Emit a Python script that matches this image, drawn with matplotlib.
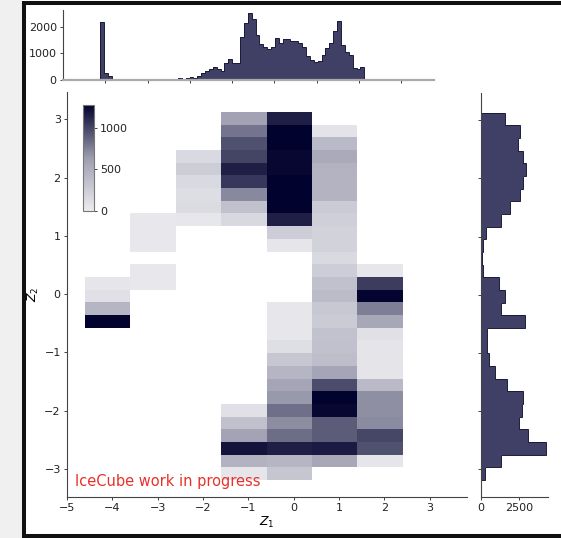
import numpy as np
import matplotlib
matplotlib.use('Agg')
import matplotlib.pyplot as plt
from matplotlib.colors import LinearSegmentedColormap
from matplotlib.patches import Rectangle

# 2D histogram: 7 columns in Z1, 29 rows in Z2 (rows listed from top to bottom)
z1_edges = np.linspace(-4.6, 2.4, 8)
z2_edges = np.linspace(-3.19, 3.13, 30)
counts_2d = [
    [0, 0, 0, 600, 1150, 0, 0],
    [0, 0, 0, 800, 1300, 70, 0],
    [0, 0, 0, 950, 1300, 410, 0],
    [0, 0, 150, 1000, 1250, 530, 0],
    [0, 0, 250, 1150, 1250, 470, 0],
    [0, 0, 150, 1050, 1300, 460, 0],
    [0, 0, 120, 720, 1300, 460, 0],
    [0, 0, 140, 350, 1300, 270, 0],
    [0, 40, 50, 160, 1150, 230, 0],
    [0, 40, 0, 0, 250, 210, 0],
    [0, 40, 0, 0, 60, 210, 0],
    [0, 0, 0, 0, 0, 150, 0],
    [0, 40, 0, 0, 0, 250, 50],
    [60, 40, 0, 0, 0, 350, 1030],
    [100, 0, 0, 0, 0, 390, 1260],
    [440, 0, 0, 0, 50, 290, 760],
    [1900, 0, 0, 0, 50, 270, 560],
    [0, 0, 0, 0, 50, 340, 100],
    [0, 0, 0, 0, 110, 350, 65],
    [0, 0, 0, 0, 300, 370, 65],
    [0, 0, 0, 0, 440, 570, 65],
    [0, 0, 0, 0, 570, 970, 410],
    [0, 0, 0, 0, 650, 1400, 690],
    [0, 0, 0, 100, 820, 1250, 690],
    [0, 0, 0, 350, 700, 900, 710],
    [0, 0, 0, 590, 830, 900, 990],
    [0, 0, 0, 1200, 1150, 1170, 950],
    [0, 0, 0, 470, 440, 560, 60],
    [0, 0, 0, 60, 310, 0, 0],
]

# marginal of Z2 (top to bottom, same bins as the 2D histogram)
z2_counts = [1572, 2541, 2433, 2756, 2907, 2756, 2541, 1895, 1313, 344,
             172, 65, 172, 1206, 1572, 1313, 2864, 388, 388, 560,
             904, 1722, 2756, 2691, 2476, 3036, 4220, 1292, 280]

# marginal of Z1 (finer bins)
z1_fine_edges = np.linspace(-4.12, 2.13, 69)
z1_counts = [2187, 275, 150, 50, 30, 20, 20, 15, 15, 10,
             10, 5, 5, 5, 5, 20, 30, 35, 40, 50,
             70, 55, 60, 100, 80, 150, 275, 350, 400, 475,
             410, 350, 625, 775, 650, 650, 1625, 2150, 2500, 2275,
             1690, 1340, 1225, 1150, 1225, 1590, 1400, 1550, 1525, 1450,
             1450, 1375, 1250, 900, 750, 690, 710, 940, 1210, 1400,
             1850, 2210, 1325, 1040, 940, 440, 400, 475]

W, H = 561, 538
fig = plt.figure(figsize=(W / 100, H / 100), dpi=100)

# рамка скриншота
fig.patches.append(Rectangle((0, 0), 22 / W, 1, transform=fig.transFigure,
                             facecolor='#f0f0f0', edgecolor='none', zorder=-2))
fig.patches.append(Rectangle((24 / W, 2.5 / H), 700 / W, 533 / H, transform=fig.transFigure,
                             facecolor='white', edgecolor='#111111', lw=2.9, zorder=-1))

cmap = LinearSegmentedColormap.from_list('navy_light', ['#ececf0', '#9d9db0', '#02022e'])
hist_face = '#404066'
hist_edge = '#1a1a3a'
spine_col = '#444444'
fs = 8

ax = fig.add_axes([67 / W, 41 / H, 400 / W, 405 / H])
vals = np.array(counts_2d[::-1], dtype=float)
mesh = ax.pcolormesh(z1_edges, z2_edges, np.ma.masked_equal(vals, 0),
                     cmap=cmap, vmin=0, vmax=1270)
ax.set_xlim(-5, 3.82)
ax.set_ylim(-3.48, 3.47)
ax.set_xticks(range(-5, 4))
ax.set_yticks(range(-3, 4))
ax.set_xlabel(r'$Z_1$', fontsize=fs + 1, labelpad=1)
ax.set_ylabel(r'$Z_2$', fontsize=fs + 1, labelpad=2)
ax.text(0.02, 0.02, 'IceCube work in progress', transform=ax.transAxes,
        color='#e8312a', fontsize=10.5, ha='left', va='bottom')

cax = ax.inset_axes([0.041, 0.706, 0.027, 0.262])
cb = fig.colorbar(mesh, cax=cax, ticks=[0, 500, 1000])
cb.outline.set_edgecolor('#777777')
cb.outline.set_linewidth(0.8)
cax.tick_params(labelsize=fs, length=2.5, width=0.6, pad=1.5, colors='#222222')

# верхний маргинал
ax_top = fig.add_axes([63 / W, (H - 80) / H, 371 / W, 70 / H])
ax_top.stairs(z1_counts, z1_fine_edges, fill=True, color=hist_face)
ax_top.stairs(z1_counts, z1_fine_edges, color=hist_edge, lw=0.7)
ax_top.set_xlim(-5, 3.78)
ax_top.set_ylim(0, 2627)
ax_top.set_xticks(range(-4, 4))
ax_top.set_xticklabels([])
ax_top.set_yticks([0, 1000, 2000])
ax_top.spines['bottom'].set_color('#aaaaaa')
ax_top.spines['bottom'].set_linewidth(1.6)

# правый маргинал
ax_right = fig.add_axes([480.7 / W, 41 / H, 67.3 / W, 404 / H])
ax_right.stairs(z2_counts[::-1], z2_edges, fill=True, color=hist_face,
                orientation='horizontal')
ax_right.stairs(z2_counts[::-1], z2_edges, color=hist_edge, lw=0.7,
                orientation='horizontal')
ax_right.set_ylim(-3.48, 3.47)
ax_right.set_xlim(0, 4350)
ax_right.set_xticks([0, 2500])
ax_right.set_yticks(range(-3, 4))
ax_right.set_yticklabels([])

for a in (ax, ax_top, ax_right):
    for s in ('top', 'right'):
        a.spines[s].set_visible(False)
    a.spines['left'].set_color(spine_col)
    a.spines['left'].set_linewidth(0.8)
    if a is not ax_top:
        a.spines['bottom'].set_color(spine_col)
        a.spines['bottom'].set_linewidth(0.8)
    a.tick_params(labelsize=fs, length=2.5, width=0.6, pad=2, colors='#222222')

fig.savefig('out.png', dpi=100)
